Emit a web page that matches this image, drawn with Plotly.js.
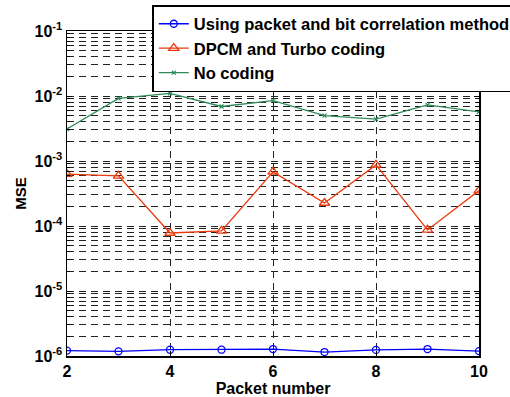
<!DOCTYPE html>
<html>
<head>
<meta charset="utf-8">
<script src="https://cdn.plot.ly/plotly-3.0.1.min.js"></script>
<style>html,body{margin:0;padding:0;background:#fff;}#chart{width:510px;height:397px;}</style>
</head>
<body>
<div id="chart"></div>
<script>
const packetNumber = [2, 3, 4, 5, 6, 7, 8, 9, 10];
const proposedMSE = [1.21e-6, 1.18e-6, 1.25e-6, 1.25e-6, 1.28e-6, 1.15e-6, 1.24e-6, 1.28e-6, 1.19e-6];
const dpcmTurboMSE = [6.3e-4, 5.9e-4, 7.8e-5, 8.4e-5, 6.8e-4, 2.26e-4, 8.7e-4, 8.7e-5, 3.5e-4];
const noCodingMSE = [3.1e-3, 9.2e-3, 1.1e-2, 6.9e-3, 8.5e-3, 5.0e-3, 4.4e-3, 7.3e-3, 5.7e-3];
const seriesNames = ['Using packet and bit correlation method', 'DPCM and Turbo coding', 'No coding'];
const xTicks = [2, 4, 6, 8, 10];
const yTickVals = [1e-6, 1e-5, 1e-4, 1e-3, 1e-2, 1e-1];
const yTickText = ['10<sup>-6</sup>', '10<sup>-5</sup>', '10<sup>-4</sup>', '10<sup>-3</sup>', '10<sup>-2</sup>', '10<sup>-1</sup>'];

const fontFam = 'Liberation Sans, Arial, sans-serif';
const traces = [
  {x: packetNumber, y: proposedMSE, name: seriesNames[0], type: 'scatter', mode: 'lines+markers',
   line: {color: '#0000ff', width: 1.3}, marker: {symbol: 'circle-open', size: 7, color: '#0000ff', line: {width: 1.3}}},
  {x: packetNumber, y: dpcmTurboMSE, name: seriesNames[1], type: 'scatter', mode: 'lines+markers',
   line: {color: '#ea3a0c', width: 1.3}, marker: {symbol: 'triangle-up-open', size: 9, color: '#ea3a0c', line: {width: 1.3}}},
  {x: packetNumber, y: noCodingMSE, name: seriesNames[2], type: 'scatter', mode: 'lines+markers',
   line: {color: '#2e8b57', width: 1.3}, marker: {symbol: 'x-thin-open', size: 4, color: '#2e8b57', line: {width: 1.2, color: '#2e8b57'}}}
];

const layout = {
  width: 510, height: 397,
  margin: {l: 67, r: 31, t: 31, b: 41, autoexpand: false},
  paper_bgcolor: '#fff', plot_bgcolor: '#fff',
  font: {family: fontFam, size: 15, color: '#000', weight: 'bold'},
  showlegend: true,
  legend: {x: 0.207, y: 1.080, xanchor: 'left', yanchor: 'top', bgcolor: '#fff', bordercolor: '#000', borderwidth: 1.5,
           font: {family: fontFam, size: 16.5, color: '#000', weight: 'bold'}, tracegroupgap: 0, itemwidth: 30},
  xaxis: {
    range: [2, 10], tickvals: xTicks, ticks: 'inside', ticklen: 5, tickcolor: '#000',
    showline: true, linecolor: '#000', linewidth: 1.5, mirror: 'ticks', automargin: false,
    showgrid: true, gridcolor: '#222', griddash: '7px,5px', gridwidth: 1, zeroline: false,
    tickfont: {family: fontFam, size: 16, weight: 'bold'},
    title: {text: 'Packet number', font: {family: fontFam, size: 16, weight: 'bold'}, standoff: 1}
  },
  yaxis: {
    type: 'log', range: [-6, -1], tickvals: yTickVals, ticktext: yTickText, ticks: 'inside', ticklen: 5, tickcolor: '#000',
    showline: true, linecolor: '#000', linewidth: 1.5, mirror: 'ticks', automargin: false,
    showgrid: true, gridcolor: '#222', griddash: '7px,5px', gridwidth: 1, zeroline: false,
    minor: {showgrid: true, gridcolor: '#222', griddash: '7px,5px', gridwidth: 1, ticks: 'inside', ticklen: 3, tickcolor: '#000', dtick: 'D1'},
    tickfont: {family: fontFam, size: 16, weight: 'bold'},
    title: {text: 'MSE', font: {family: fontFam, size: 15, weight: 'bold'}, standoff: 4}
  }
};

Plotly.newPlot('chart', traces, layout, {displayModeBar: false, staticPlot: true});
</script>
</body>
</html>
